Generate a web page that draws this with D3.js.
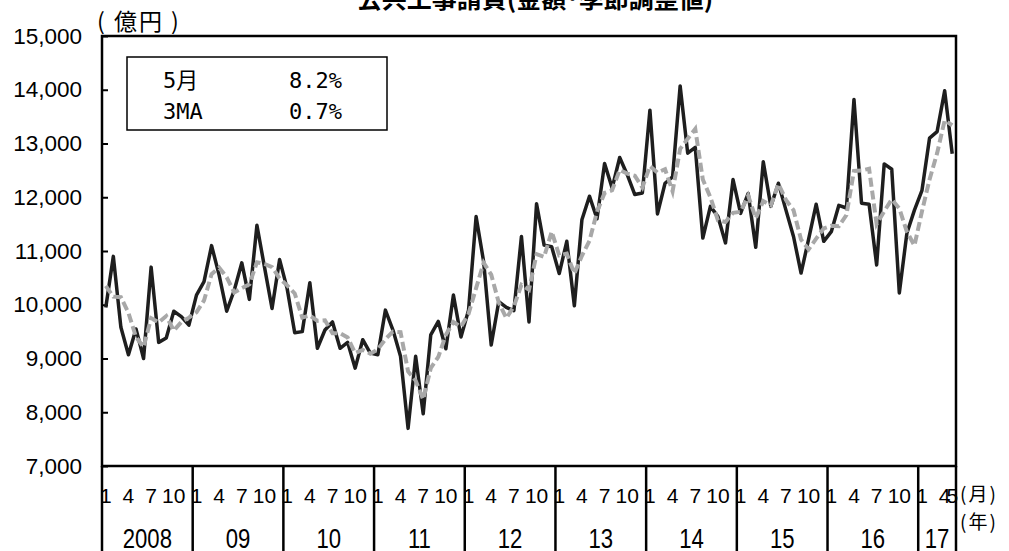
<!DOCTYPE html>
<html>
<head>
<meta charset="utf-8">
<script src="https://cdn.jsdelivr.net/npm/d3@7"></script>
<style>
  body { margin: 0; background: #fff; }
  text { font-family: "Liberation Sans", Arial, sans-serif; fill: #000; }
  .jp { font-family: "Noto Sans CJK JP", sans-serif; }
  .mono { font-family: "DejaVu Sans Mono", "Noto Sans CJK JP", monospace; }
</style>
</head>
<body>
<svg id="chart" width="1009" height="551"></svg>
<script>
const years = ["2008", "09", "10", "11", "12", "13", "14", "15", "16", "17"];
const monthLabels = [1, 4, 7, 10];

// 公共工事請負金額（季節調整値、億円）2008/1 - 2017/5
const amount = [
  9950, 10900, 9580, 9070, 9550, 9000, 10700, 9300, 9380, 9880, 9780, 9620,
  10180, 10430, 11100, 10550, 9880, 10270, 10780, 10100, 11480, 10700, 9930, 10840,
  10300, 9480, 9500, 10410, 9190, 9530, 9680, 9190, 9300, 8820, 9350, 9100,
  9070, 9900, 9530, 9040, 7700, 9040, 7970, 9440, 9690, 9180, 10180, 9400,
  9900, 11640, 10800, 9250, 10060, 9950, 9890, 11270, 9680, 11880, 11110, 11080,
  10580, 11180, 9980, 11580, 12020, 11600, 12630, 12170, 12740, 12420, 12050, 12080,
  13620, 11690, 12260, 12380, 14070, 12820, 12930, 11240, 11830, 11640, 11150, 12330,
  11700, 12070, 11070, 12660, 11830, 12260, 11760, 11270, 10590, 11220, 11870, 11180,
  11360, 11850, 11800, 13820, 11890, 11870, 10740, 12620, 12520, 10220, 11330, 11760,
  12130, 13100, 13220, 13980, 12810
];

// 3MA (点線)
const ma3 = [
  10350, 10150, 10140, 9850, 9400, 9210, 9750, 9670, 9790, 9520, 9680, 9760,
  9860, 10080, 10570, 10690, 10510, 10230, 10310, 10380, 10790, 10760, 10700, 10490,
  10360, 10210, 9760, 9800, 9700, 9710, 9470, 9470, 9390, 9100, 9160, 9090,
  9170, 9360, 9500, 9490, 8760, 8590, 8240, 8820, 9030, 9440, 9680, 9590,
  9830, 10310, 10780, 10560, 10040, 9750, 9970, 10370, 10280, 10940, 10890, 11360,
  10920, 10950, 10580, 10910, 11190, 11730, 12080, 12130, 12510, 12440, 12400, 12180,
  12580, 12460, 12520, 12110, 12900, 13090, 13270, 12330, 12000, 11570, 11540, 11710,
  11730, 12030, 11610, 11930, 11850, 12250, 11950, 11760, 11210, 11030, 11230, 11420,
  11470, 11460, 11670, 12490, 12500, 12530, 11500, 11740, 11960, 11790, 11360, 11100,
  11740, 12330, 12820, 13430, 13340
];

const yTicks = [7000, 8000, 9000, 10000, 11000, 12000, 13000, 14000, 15000];
const legendRows = [["5月", "8.2%"], ["3MA", "0.7%"]];

const svg = d3.select("#chart");
const plotL = 102, plotR = 956, plotT = 36, plotB = 466;

const x = d3.scaleBand()
    .domain(d3.range(amount.length))
    .range([plotL, plotR]);
const cx = i => x(i) + x.bandwidth() / 2;

const y = d3.scaleLinear()
    .domain([7000, 15000])
    .range([plotB, plotT]);

svg.append("rect")
    .attr("width", 1009).attr("height", 551)
    .attr("fill", "#fff");

// タイトル（上端で切れている）
svg.append("text")
    .attr("class", "jp")
    .attr("x", 535).attr("y", 8)
    .attr("text-anchor", "middle")
    .attr("font-size", "25px")
    .attr("font-weight", "bold")
    .text("公共工事請負(金額･季節調整値)");

svg.append("text")
    .attr("class", "jp")
    .attr("x", 97).attr("y", 30)
    .attr("font-size", "23px")
    .attr("letter-spacing", "2px")
    .text("( 億円 )");

// y軸
const yAxis = svg.append("g")
    .attr("transform", `translate(${plotL},0)`)
    .call(d3.axisLeft(y)
        .tickValues(yTicks)
        .tickSize(-6)
        .tickPadding(20)
        .tickFormat(d3.format(",")));
yAxis.select(".domain").remove();
yAxis.selectAll(".tick line").attr("stroke", "#000").attr("stroke-width", 2);
yAxis.selectAll(".tick text")
    .attr("font-family", "Liberation Sans, Arial, sans-serif")
    .attr("font-size", "22.5px")
    .attr("fill", "#000");

// 系列
const line = d3.line()
    .x((d, i) => cx(i))
    .y(d => y(d));

svg.append("path")
    .datum(amount)
    .attr("fill", "none")
    .attr("stroke", "#1e1e1e")
    .attr("stroke-width", 3.5)
    .attr("stroke-linejoin", "round")
    .attr("d", line);

svg.append("path")
    .datum(ma3)
    .attr("fill", "none")
    .attr("stroke", "#a8a8a8")
    .attr("stroke-width", 4)
    .attr("stroke-dasharray", "9,4")
    .attr("d", line);

// 枠
svg.append("rect")
    .attr("x", plotL).attr("y", plotT)
    .attr("width", plotR - plotL).attr("height", plotB - plotT)
    .attr("fill", "none")
    .attr("stroke", "#000")
    .attr("stroke-width", 2.5);

// 凡例ボックス
const legend = svg.append("g");
legend.append("rect")
    .attr("x", 127).attr("y", 57)
    .attr("width", 260).attr("height", 73)
    .attr("fill", "#fff")
    .attr("stroke", "#000")
    .attr("stroke-width", 1.5);
legendRows.forEach((r, k) => {
    legend.append("text")
        .attr("class", "mono")
        .attr("x", 163).attr("y", 88 + k * 31)
        .attr("font-size", "22px")
        .text(r[0]);
    legend.append("text")
        .attr("class", "mono")
        .attr("x", 289).attr("y", 88 + k * 31)
        .attr("font-size", "22px")
        .text(r[1]);
});

// x軸（月・年）
const last = amount.length - 1;
const yearEdges = years.map((yr, k) => x(k * 12)).concat([plotR]);

svg.append("g")
    .selectAll("line")
    .data(yearEdges)
    .join("line")
    .attr("x1", d => d).attr("x2", d => d)
    .attr("y1", plotB).attr("y2", 551)
    .attr("stroke", "#000")
    .attr("stroke-width", 2.5);

const monthIdx = d3.range(amount.length)
    .filter(i => monthLabels.includes(i % 12 + 1) || i === last);

svg.append("g")
    .selectAll("text")
    .data(monthIdx)
    .join("text")
    .attr("x", i => cx(i))
    .attr("y", 503)
    .attr("text-anchor", "middle")
    .attr("font-size", "21px")
    .text(i => i % 12 + 1);

svg.append("g")
    .selectAll("text")
    .data(years)
    .join("text")
    .attr("transform", (d, k) => `translate(${(yearEdges[k] + yearEdges[k + 1]) / 2},548) scale(0.82,1)`)
    .attr("text-anchor", "middle")
    .attr("font-size", "27px")
    .text(d => d);

svg.append("text")
    .attr("class", "jp")
    .attr("x", 960).attr("y", 501)
    .attr("font-size", "19px")
    .attr("letter-spacing", "2px")
    .text("(月)");
svg.append("text")
    .attr("class", "jp")
    .attr("x", 960).attr("y", 529)
    .attr("font-size", "19px")
    .attr("letter-spacing", "2px")
    .text("(年)");
</script>
</body>
</html>
